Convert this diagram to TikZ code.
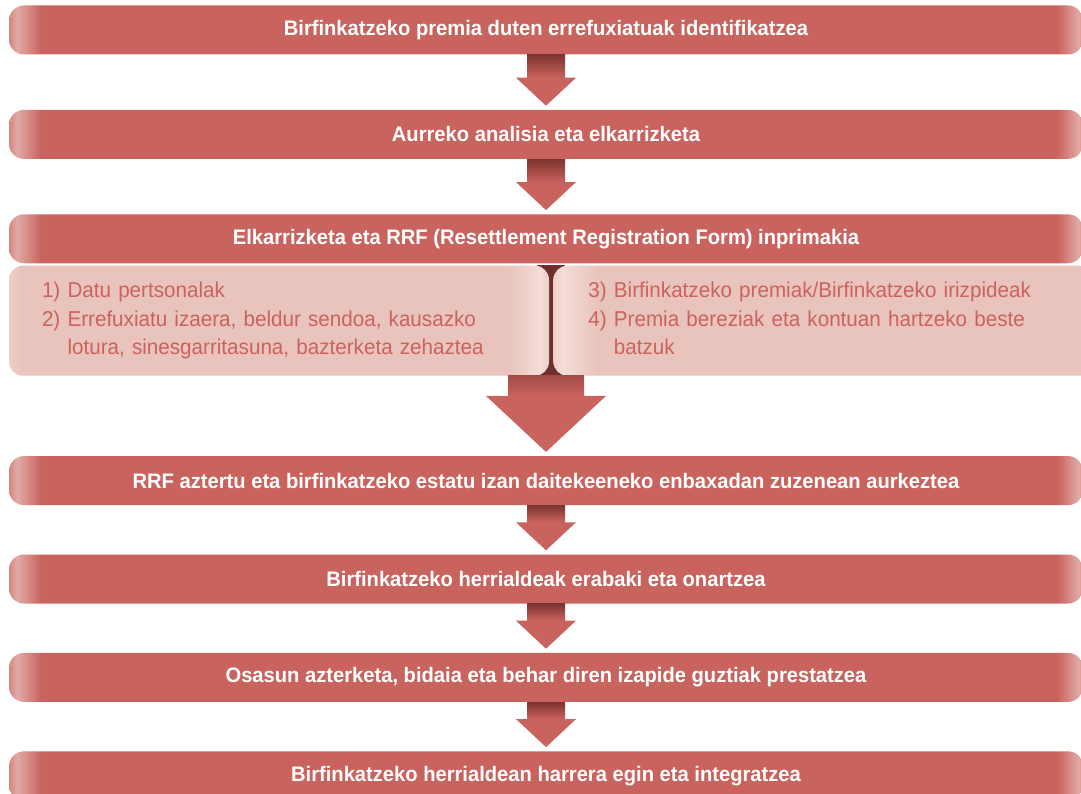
\documentclass[tikz,border=0pt]{standalone}
\usepackage{fontspec}
\setmainfont{Liberation Sans}[FakeStretch=0.96]
\usetikzlibrary{positioning,calc,backgrounds}

\definecolor{barmain}{HTML}{C9635E}
\definecolor{barlight}{HTML}{E2AAA5}
\definecolor{baredge}{HTML}{D48580}
\definecolor{stemdark}{HTML}{7E3330}
\definecolor{stemmid}{HTML}{A24B47}
\definecolor{gapdark}{HTML}{6E2E2B}
\definecolor{boxfill}{HTML}{E9C4BC}
\definecolor{boxlight}{HTML}{F3DDD8}
\definecolor{boxedge}{HTML}{EDCEC8}
\definecolor{boxtext}{HTML}{CC625D}

\pgfdeclarehorizontalshading{stageshade}{100bp}{color(0bp)=(baredge); color(25bp)=(baredge);
  color(25.37bp)=(barlight); color(26.5bp)=(barmain); color(73.8bp)=(barmain);
  color(74.8bp)=(barlight); color(75bp)=(baredge); color(100bp)=(baredge)}
\pgfdeclarehorizontalshading{detailright}{100bp}{color(0bp)=(boxedge); color(25bp)=(boxedge);
  color(26bp)=(boxfill); color(71.3bp)=(boxfill); color(74.2bp)=(boxlight);
  color(75bp)=(boxedge); color(100bp)=(boxedge)}
\pgfdeclarehorizontalshading{detailleft}{100bp}{color(0bp)=(boxedge); color(25bp)=(boxedge);
  color(25.8bp)=(boxlight); color(29bp)=(boxfill); color(100bp)=(boxfill)}

\tikzset{
  stage/.style={shading=stageshade, text=white, font=\bfseries\fontsize{21}{24}\selectfont,
    minimum width=1074pt, minimum height=49pt, inner sep=0pt, rounded corners=15pt},
  detail/.style={text=boxtext, font=\fontsize{21.5}{28.5}\selectfont, align=left,
    minimum height=110pt, inner ysep=0pt, rounded corners=14pt},
}

% #1 stem top colour, #2 start point, #3 target node, #4 stem half width, #5 head half width, #6 head length
\newcommand{\flowarrow}[6][stemdark]{%
  \shade[top color=#1, bottom color=barmain] let \p1=#2, \p2=(#3.north) in
    (\x1-#4pt,\y1) rectangle (\x1+#4pt,\y2+#6pt+4pt);
  \fill[barmain] let \p1=#2, \p2=(#3.north) in
    (\x1-#5pt,\y2+#6pt+4pt) -- (\x1,\y2+4pt) -- (\x1+#5pt,\y2+#6pt+4pt) -- cycle;
}

\begin{document}
\begin{tikzpicture}[x=1pt, y=1pt]
    \useasboundingbox (0,0) rectangle (1081,793);

    \node (s1) [stage] at (546,763) {Birfinkatzeko premia duten errefuxiatuak identifikatzea};
    \node (s2) [stage, below=55pt of s1] {Aurreko analisia eta elkarrizketa};
    \node (s3) [stage, below=55pt of s2] {Elkarrizketa eta RRF (Resettlement Registration Form) inprimakia};
    \node (d1) [detail, shading=detailright, below=2pt of s3.south west, anchor=north west, text width=474pt, inner xsep=33pt]
        {1) Datu pertsonalak\\
         2) Errefuxiatu izaera, beldur sendoa, kausazko\\
         \phantom{2) }lotura, sinesgarritasuna, bazterketa zehaztea};
    \node (d2) [detail, shading=detailleft, right=4pt of d1, text width=470pt, inner xsep=35pt]
        {3) Birfinkatzeko premiak/Birfinkatzeko irizpideak\\
         4) Premia bereziak eta kontuan hartzeko beste\\
         \phantom{4) }batzuk};
    \node (s4) [stage, below=80pt of s3 |- d1.south, anchor=north] {RRF aztertu eta birfinkatzeko estatu izan daitekeeneko enbaxadan zuzenean aurkeztea};
    \node (s5) [stage, below=49pt of s4] {Birfinkatzeko herrialdeak erabaki eta onartzea};
    \node (s6) [stage, below=49pt of s5] {Osasun azterketa, bidaia eta behar diren izapide guztiak prestatzea};
    \node (s7) [stage, below=49pt of s6] {Birfinkatzeko herrialdean harrera egin eta integratzea};

    \begin{pgfonlayer}{background}
        \fill[white] (0,0) rectangle (1081,793);
        \fill[gapdark] ([xshift=-12pt]d1.north east) rectangle ([xshift=12pt]d2.south west);
    \end{pgfonlayer}

    \flowarrow{(s1.south)}{s2}{19}{30}{28}
    \flowarrow{(s2.south)}{s3}{19}{30}{28}
    \flowarrow[stemmid]{(s3.south |- d1.south)}{s4}{38}{60}{56}
    \flowarrow{(s4.south)}{s5}{19}{30}{28}
    \flowarrow{(s5.south)}{s6}{19}{30}{28}
    \flowarrow{(s6.south)}{s7}{19}{30}{28}
\end{tikzpicture}
\end{document}
